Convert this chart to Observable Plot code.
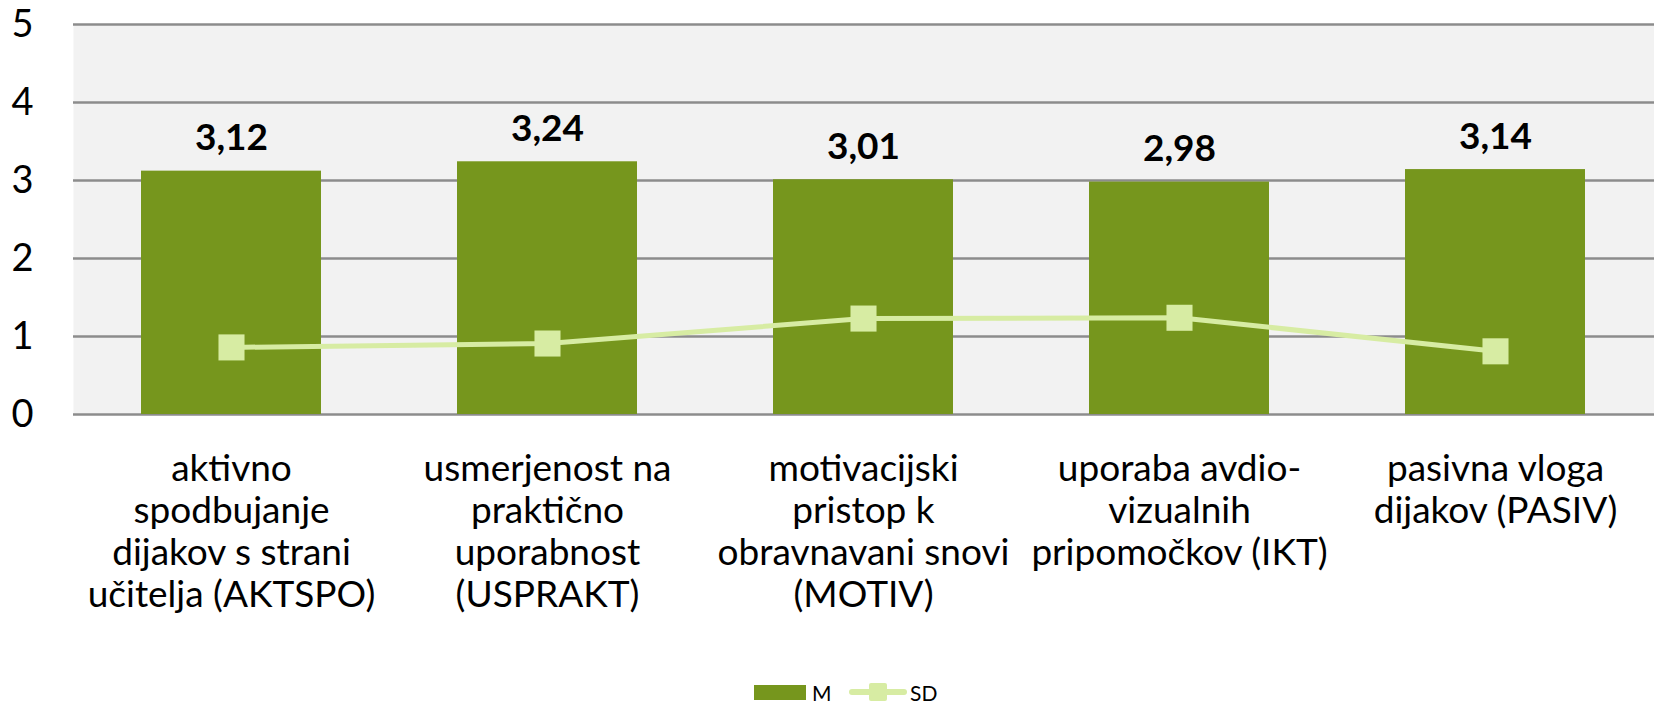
<!DOCTYPE html>
<html>
<head>
<meta charset="utf-8">
<script src="https://cdn.jsdelivr.net/npm/d3@7"></script>
<script src="https://cdn.jsdelivr.net/npm/@observablehq/plot@0.6"></script>
<style>
  html, body { margin: 0; padding: 0; background: #fff; }
  body { width: 1654px; height: 702px; overflow: hidden; font-family: Lato, "Open Sans", sans-serif; }
  #legend { position: relative; height: 34px; font-size: 21px; color: #000; }
  .lg { position: absolute; top: 7px; display: flex; align-items: center; height: 34px; }
</style>
</head>
<body>
<div id="chart"></div>
<div id="legend">
  <div class="lg" style="left:754px">
    <svg width="52" height="16"><rect x="0" y="1" width="52" height="15" fill="#76961d"/></svg>
    <span style="margin-left:6px">M</span>
  </div>
  <div class="lg" style="left:849px">
    <svg width="58" height="26"><line x1="3" y1="13" x2="55" y2="13" stroke="#d7eca3" stroke-width="6" stroke-linecap="round"/><rect x="20" y="4" width="18" height="18" rx="2" fill="#d7eca3"/></svg>
    <span style="margin-left:3px">SD</span>
  </div>
</div>
<script>
const categories = [
  "aktivno\nspodbujanje\ndijakov s strani\nučitelja (AKTSPO)",
  "usmerjenost na\npraktično\nuporabnost\n(USPRAKT)",
  "motivacijski\npristop k\nobravnavani snovi\n(MOTIV)",
  "uporaba avdio-\nvizualnih\npripomočkov (IKT)",
  "pasivna vloga\ndijakov (PASIV)"
];
const meanValues = [3.12, 3.24, 3.01, 2.98, 3.14];
const sdValues = [0.86, 0.91, 1.23, 1.24, 0.81];
const yTicks = [0, 1, 2, 3, 4, 5];

const data = categories.map((c, i) => ({cat: c, m: meanValues[i], sd: sdValues[i]}));
const fmt = v => d3.format(".2f")(v).replace(".", ",");

const chart = Plot.plot({
  width: 1654,
  height: 668,
  marginLeft: 73,
  marginRight: 0,
  marginTop: 24,
  marginBottom: 254,
  style: {fontFamily: "Lato, 'Open Sans', sans-serif", background: "#fff", color: "#000"},
  x: {domain: categories, paddingInner: 0.43, paddingOuter: 0.215, label: null},
  y: {domain: [0, 5], label: null},
  marks: [
    Plot.frame({fill: "#f2f2f2", stroke: null}),
    Plot.ruleY(yTicks, {stroke: "#8c8c8c", strokeWidth: 2.5}),
    Plot.barY(data, {x: "cat", y: "m", fill: "#76961d"}),
    Plot.line(data, {x: "cat", y: "sd", stroke: "#d7eca3", strokeWidth: 5}),
    Plot.dot(data, {x: "cat", y: "sd", symbol: "square", r: 14.7, fill: "#d7eca3", stroke: null}),
    Plot.text(data, {x: "cat", y: "m", text: d => fmt(d.m), lineAnchor: "bottom", dy: -21, fontSize: 37, fontWeight: "bold", fill: "#000"}),
    Plot.axisY(yTicks, {tickSize: 0, tickPadding: 40, fontSize: 38, tickFormat: "d", fill: "#000", label: null}),
    Plot.axisX({tickSize: 0, tickPadding: 37, fontSize: 37, lineHeight: 1.135, fill: "#000", label: null, textOverflow: null})
  ]
});
document.getElementById("chart").appendChild(chart);
</script>
</body>
</html>
